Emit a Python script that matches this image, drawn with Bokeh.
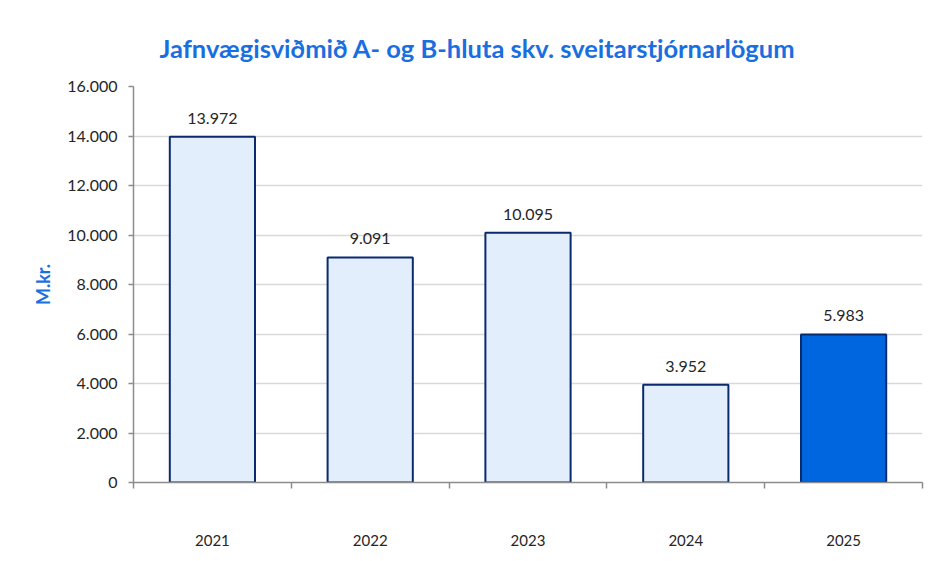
from bokeh.plotting import figure
from bokeh.models import FixedTicker, ColumnDataSource, Range1d
from bokeh.core.properties import value
from bokeh.embed import file_html
from bokeh.resources import INLINE

years = ["2021", "2022", "2023", "2024", "2025"]
values = [13972, 9091, 10095, 3952, 5983]
value_labels = ["13.972", "9.091", "10.095", "3.952", "5.983"]
y_ticks = [0, 2000, 4000, 6000, 8000, 10000, 12000, 14000, 16000]
y_tick_labels = ["0", "2.000", "4.000", "6.000", "8.000", "10.000", "12.000", "14.000", "16.000"]
title_text = "Jafnvægisviðmið A- og B-hluta skv. sveitarstjórnarlögum"
y_label = "M.kr."

FONT = "Lato"
light_fill = "#e2eefc"
dark_fill = "#0066e0"
edge = "#0b2a6e"

xs = [i + 0.5 for i in range(len(years))]
fills = [light_fill] * (len(years) - 1) + [dark_fill]
src = ColumnDataSource(dict(x=xs, top=values, fill=fills, lab=value_labels))

p = figure(width=929, height=553, output_backend="svg", toolbar_location=None,
           x_range=Range1d(0, len(years)), y_range=Range1d(0, 16000),
           min_border_left=133, min_border_right=7, min_border_top=86, min_border_bottom=71)
p.outline_line_color = None
p.background_fill_color = "white"
p.border_fill_color = "white"

p.title.text = title_text
p.title.text_font = FONT
p.title.text_font_style = "bold"
p.title.text_font_size = "25.5px"
p.title.text_color = "#1a6fe0"
p.title.align = "left"
p.title.offset = 26
p.title.standoff = 48

p.vbar(x="x", top="top", width=0.54, source=src, fill_color="fill",
       line_color=edge, line_width=2)
p.text(x="x", y="top", text="lab", source=src, text_align="center",
       text_baseline="bottom", y_offset=-13, text_font=value(FONT),
       text_font_size="16px", text_color="#262626")

# x axis
p.xaxis.ticker = FixedTicker(ticks=xs, minor_ticks=list(range(len(years) + 1)))
p.xaxis.major_label_overrides = {x: y for x, y in zip(xs, years)}
p.xaxis.major_tick_out = 0
p.xaxis.major_tick_in = 0
p.xaxis.minor_tick_out = 6
p.xaxis.minor_tick_in = 0
p.xaxis.minor_tick_line_color = "#8c8c8c"
p.xaxis.minor_tick_line_width = 1.5
p.xaxis.major_label_standoff = 46
p.xaxis.axis_line_color = "#8c8c8c"
p.xaxis.axis_line_width = 1.5
p.xaxis.major_label_text_font = FONT
p.xaxis.major_label_text_font_size = "15px"
p.xaxis.major_label_text_color = "#262626"
p.xgrid.visible = False

# y axis
p.yaxis.ticker = FixedTicker(ticks=y_ticks)
p.yaxis.major_label_overrides = {t: l for t, l in zip(y_ticks, y_tick_labels)}
p.yaxis.minor_tick_line_color = None
p.yaxis.major_tick_out = 5
p.yaxis.major_tick_in = 0
p.yaxis.major_tick_line_color = "#8c8c8c"
p.yaxis.major_tick_line_width = 1.5
p.yaxis.axis_line_color = "#8c8c8c"
p.yaxis.axis_line_width = 1.5
p.yaxis.major_label_standoff = 11
p.yaxis.major_label_text_font = FONT
p.yaxis.major_label_text_font_size = "16px"
p.yaxis.major_label_text_color = "#262626"
p.yaxis.axis_label = y_label
p.yaxis.axis_label_text_font = FONT
p.yaxis.axis_label_text_font_style = "bold"
p.yaxis.axis_label_text_font_size = "18px"
p.yaxis.axis_label_text_color = "#1a6fe0"
p.yaxis.axis_label_standoff = 10
p.ygrid.grid_line_color = "#d9d9d9"
p.ygrid.grid_line_width = 1.5
p.ygrid.ticker = FixedTicker(ticks=y_ticks)

open("out.html", "w").write(file_html(p, INLINE))
